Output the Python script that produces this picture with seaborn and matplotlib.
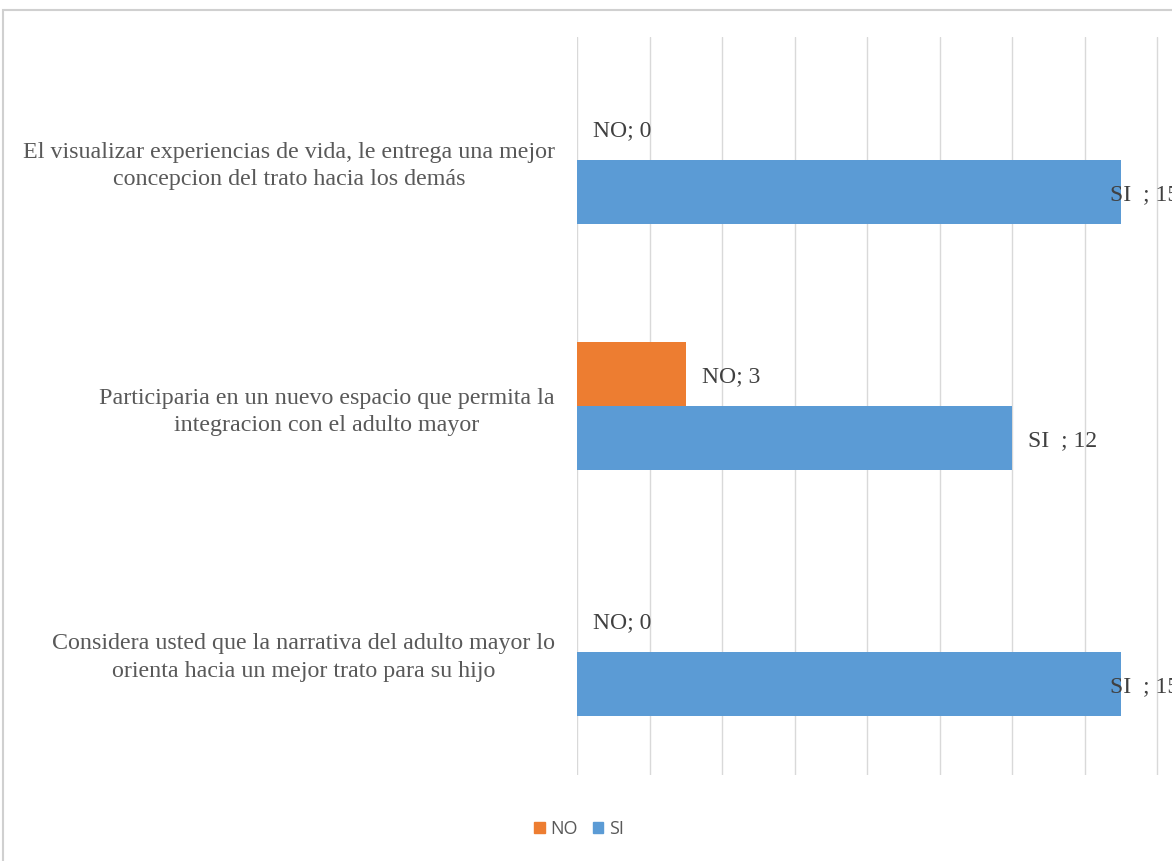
import matplotlib
matplotlib.use("Agg")
import matplotlib.pyplot as plt
from matplotlib.patches import Rectangle
import pandas as pd
import seaborn as sns

preguntas = [
    "El visualizar experiencias de vida, le entrega una mejor\nconcepcion del trato hacia los demás",
    "Participaria en un nuevo espacio que permita la\nintegracion con el adulto mayor",
    "Considera usted que la narrativa del adulto mayor lo\norienta hacia un mejor trato para su hijo",
]
respuestas = ["NO", "SI"]
valores_no = [0, 3, 0]
valores_si = [15, 12, 15]
etiquetas = {"NO": "NO; {}", "SI": "SI  ; {}"}

df = pd.DataFrame({
    "pregunta": preguntas * 2,
    "respuesta": ["NO"] * 3 + ["SI"] * 3,
    "valor": valores_no + valores_si,
})

sns.set_style("white")
plt.rcParams["font.family"] = ["Liberation Serif", "DejaVu Serif"]

W, H = 1172, 861
fig = plt.figure(figsize=(W / 100, H / 100), dpi=100)

# the plot area runs off the right edge, like the cropped original
x0, x16 = 577, 1157
xmax = 18
px_per_unit = (x16 - x0) / 16
ax_right = x0 + xmax * px_per_unit
top, bottom = 37, 775
ax = fig.add_axes([x0 / W, 1 - bottom / H, (ax_right - x0) / W, (bottom - top) / H])

sns.barplot(data=df, y="pregunta", x="valor", hue="respuesta", hue_order=respuestas,
            order=preguntas, palette={"NO": "#ED7D31", "SI": "#5B9BD5"},
            width=0.52, orient="h", ax=ax, legend=False, saturation=1,
            linewidth=0, edgecolor="none")

ax.set_xlim(0, xmax)
ax.set_xticks(range(0, xmax + 1, 2))
ax.xaxis.grid(True, color="#D9D9D9", linewidth=1)
ax.set_axisbelow(True)
ax.tick_params(axis="x", length=0, labelbottom=False)
ax.tick_params(axis="y", length=0, pad=16)
for s in ax.spines.values():
    s.set_visible(False)
ax.set_xlabel("")
ax.set_ylabel("")
ax.set_yticks(range(len(preguntas)))
ax.set_yticklabels(preguntas, fontsize=17.3, color="#595959", multialignment="center",
                   linespacing=1.4)

# data labels
for cont, resp in zip(ax.containers, respuestas):
    for bar in cont:
        v = bar.get_width()
        xt = min(v + 0.45, 14.7)
        ax.text(xt, bar.get_y() + bar.get_height() / 2, etiquetas[resp].format(int(v)),
                va="center_baseline", ha="left", fontsize=17, color="#404040")

handles = [Rectangle((0, 0), 1, 1, color="#ED7D31"), Rectangle((0, 0), 1, 1, color="#5B9BD5")]
fig.legend(handles, respuestas, loc="center", bbox_to_anchor=(579 / W, 1 - 829 / H),
           ncol=2, frameon=False, handlelength=0.6, handleheight=0.6, handletextpad=0.3,
           columnspacing=0.8, prop={"family": "Open Sans", "size": 13}, labelcolor="#595959")

# outer chart frame
fig.patches.append(Rectangle((3 / W, -0.05), 1.2, 1 - 10 / H + 0.05, transform=fig.transFigure,
                             fill=False, edgecolor="#D0D0D0", linewidth=1.5))

fig.savefig("out.png", dpi=100)
